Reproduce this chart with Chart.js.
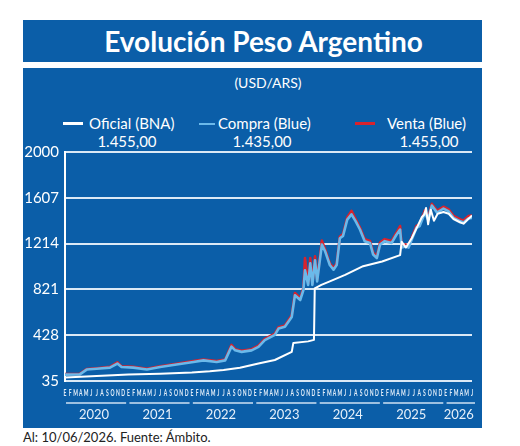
<!DOCTYPE html>
<html>
<head>
<meta charset="utf-8">
<script src="https://cdn.jsdelivr.net/npm/chart.js@4.4.1/dist/chart.umd.min.js"></script>
<style>
  body { margin: 0; width: 520px; height: 446px; background: #fff; position: relative; overflow: hidden; font-family: Lato, 'Open Sans', sans-serif; }
  .box { position: absolute; left: 23px; width: 459px; background: #0b5ea8; }
  #titulo { top: 20px; height: 42px; }
  #titulo span { position: absolute; left: 0; right: 0; top: 0; text-align: center; padding-left: 22px; color: #fff; font-weight: 700; font-size: 28px; line-height: 42px; }
  #panel { top: 68px; height: 360px; }
  .txt { position: absolute; color: #fff; font-size: 15px; line-height: 18px; white-space: nowrap; }
  .sw { position: absolute; }
  #fuente { position: absolute; left: 23px; top: 429px; font-size: 13px; color: #222; }
  #grafico { position: absolute; left: 23px; top: 137px; }
</style>
</head>
<body>
<div class="box" id="titulo"><span>Evolución Peso Argentino</span></div>
<div class="box" id="panel"></div>

<div class="txt" style="left:0;width:536px;text-align:center;top:74px;font-size:14px;">(USD/ARS)</div>

<div class="sw" style="left:63px;top:122px;width:20px;height:3px;background:#fff"></div>
<div class="txt" style="left:89px;top:114px">Oficial (BNA)</div>
<div class="sw" style="left:199px;top:123px;width:16px;height:2px;background:#6bb9ea"></div>
<div class="txt" style="left:218px;top:114px">Compra (Blue)</div>
<div class="sw" style="left:355px;top:122px;width:20px;height:3px;background:#d8232d"></div>
<div class="txt" style="left:387px;top:114px">Venta (Blue)</div>

<div class="txt" style="left:77px;width:100px;text-align:center;top:132px">1.455,00</div>
<div class="txt" style="left:212px;width:100px;text-align:center;top:132px">1.435,00</div>
<div class="txt" style="left:379px;width:100px;text-align:center;top:132px">1.455,00</div>

<canvas id="grafico" width="459" height="291"></canvas>
<div id="fuente">Al: 10/06/2026. Fuente: Ámbito.</div>

<script>
// meses contados desde enero 2020 (0) hasta junio 2026 (77)
const mesesLetras = ['E', 'F', 'M', 'A', 'M', 'J', 'J', 'A', 'S', 'O', 'N', 'D'];
const anios = ['2020', '2021', '2022', '2023', '2024', '2025', '2026'];
const anioDesde = [0, 12, 24, 36, 48, 60, 72];
const anioHasta = [11, 23, 35, 47, 59, 71, 77];
const ejeY = [35, 428, 821, 1214, 1607, 2000];

// Oficial (BNA)
const oficialMes = [0, 6, 12, 18, 24, 27.4, 30, 33.1, 36.6, 39.7, 42.9, 43.2, 46, 47.1, 47.25, 48.5,
  50.1, 53, 56.4, 60, 63.4, 63.7, 64.5, 65.6, 66.5, 67.5, 68, 68.3, 68.7, 69.2, 69.8, 70.5,
  71.6, 72.6, 73.5, 74.8, 75.4, 76.3, 77];
const oficialValor = [65, 78, 90, 98, 108, 118, 130, 148, 185, 215, 285, 362, 375, 388, 830, 860,
  890, 945, 1020, 1060, 1115, 1230, 1180, 1260, 1345, 1440, 1465, 1520, 1380, 1505, 1410, 1470,
  1485, 1470, 1425, 1395, 1385, 1425, 1455];

// Blue: compra y venta
const blueMes = [0, 2.8, 4.1, 6, 8.5, 9.9, 10.7, 12.9, 15.5, 18, 21.1, 24.3, 26.2, 28.7, 30.3, 31.5,
  32.2, 33.4, 35.3, 36.6, 37.8, 39.7, 40.4, 41.6, 42.9, 43.5, 44.5, 45.1, 45.4, 46, 46.4, 46.8,
  47.3, 47.7, 48.6, 49.2, 50.1, 50.8, 51.4, 52, 52.6, 53.4, 54.2, 55, 55.8, 56.7, 57.7, 58.3,
  59, 59.6, 60.5, 61.8, 62.7, 63.4, 63.7, 64.4, 65, 65.6, 66.5, 67.1, 68.1, 68.7, 69.4, 70.4,
  71.6, 72.6, 73.5, 74.8, 75.4, 76.3, 77];
const compraValor = [90, 92, 133, 140, 150, 185, 155, 150, 134, 155, 176, 198, 212, 198, 212, 330,
  298, 285, 298, 328, 385, 430, 485, 500, 585, 770, 730, 815, 985, 860, 1045, 860,
  1070, 890, 1205, 1150, 1030, 990, 1030, 1260, 1280, 1420, 1465, 1405, 1335, 1235, 1220, 1120,
  1090, 1205, 1235, 1220, 1290, 1335, 1180, 1190, 1180, 1250, 1350, 1365, 1480, 1420, 1540, 1480,
  1515, 1490, 1435, 1405, 1395, 1430, 1435];
const ventaValor = [94, 96, 138, 145, 156, 196, 161, 156, 140, 161, 183, 206, 220, 206, 220, 345,
  308, 295, 308, 338, 397, 442, 497, 512, 600, 790, 745, 832, 1090, 872, 1090, 872,
  1105, 905, 1240, 1165, 1045, 1005, 1045, 1275, 1295, 1438, 1495, 1422, 1352, 1252, 1237, 1137,
  1105, 1222, 1252, 1237, 1307, 1365, 1197, 1207, 1197, 1267, 1367, 1382, 1500, 1437, 1555, 1497,
  1530, 1507, 1452, 1422, 1412, 1450, 1455];

const puntos = (xs, ys) => xs.map((m, i) => ({ x: m, y: ys[i] }));
const mesesTicks = Array.from({ length: 78 }, (_, i) => i);
const aniosTicks = anioDesde.map((d, i) => (d + anioHasta[i]) / 2);

// letras de los meses (angostas) y lineas bajo ellas, una por año
const ejeMeses = {
  id: 'ejeMeses',
  afterDraw(chart) {
    const xs = chart.scales.x;
    const ctx = chart.ctx;
    ctx.save();
    ctx.fillStyle = '#e3eef9';
    ctx.font = 'bold 10px Lato';
    ctx.textAlign = 'center';
    ctx.textBaseline = 'middle';
    mesesTicks.forEach((m) => {
      ctx.save();
      ctx.translate(xs.getPixelForValue(m), xs.top + 12);
      ctx.scale(0.5, 1);
      ctx.fillText(mesesLetras[m % 12], 0, 0);
      ctx.restore();
    });
    const y = chart.scales.x2.top + 2;
    ctx.strokeStyle = '#cfe2f3';
    ctx.lineWidth = 1.5;
    anioDesde.forEach((d, i) => {
      ctx.beginPath();
      ctx.moveTo(xs.getPixelForValue(d) + 1, y);
      ctx.lineTo(xs.getPixelForValue(anioHasta[i]) + 3, y);
      ctx.stroke();
    });
    ctx.restore();
  }
};

new Chart(document.getElementById('grafico'), {
  type: 'line',
  data: {
    datasets: [
      {
        label: 'Oficial (BNA)',
        data: puntos(oficialMes, oficialValor),
        borderColor: '#ffffff',
        borderWidth: 2,
        order: 0
      },
      {
        label: 'Compra (Blue)',
        data: puntos(blueMes, compraValor),
        borderColor: '#6bb9ea',
        borderWidth: 2.6,
        order: 1
      },
      {
        label: 'Venta (Blue)',
        data: puntos(blueMes, ventaValor),
        borderColor: '#d8232d',
        borderWidth: 2.6,
        order: 2
      }
    ]
  },
  options: {
    responsive: false,
    animation: false,
    events: [],
    layout: { padding: { top: 0, right: 10, left: 0, bottom: 0 } },
    elements: { point: { radius: 0 }, line: { tension: 0, borderJoinStyle: 'round' } },
    plugins: { legend: { display: false }, tooltip: { enabled: false } },
    scales: {
      y: {
        min: 35,
        max: 2000,
        afterBuildTicks: (axis) => { axis.ticks = ejeY.map(v => ({ value: v })); },
        afterFit: (scale) => { scale.width = 42; },
        grid: { color: '#dbe9f6', lineWidth: 2, drawTicks: false },
        border: { color: '#ffffff', width: 2 },
        ticks: {
          color: '#ffffff',
          padding: 6,
          font: { family: 'Lato', size: 15 },
          callback: (v) => String(v)
        }
      },
      x: {
        type: 'linear',
        min: 0,
        max: 77,
        afterBuildTicks: (axis) => { axis.ticks = mesesTicks.map(v => ({ value: v })); },
        afterFit: (scale) => { scale.height = 20; },
        grid: { display: false, drawTicks: false },
        border: { display: false },
        ticks: { display: false }
      },
      x2: {
        type: 'linear',
        position: 'bottom',
        min: 0,
        max: 77,
        afterBuildTicks: (axis) => { axis.ticks = aniosTicks.map(v => ({ value: v })); },
        afterFit: (scale) => { scale.height = 27; },
        grid: { display: false, drawTicks: false },
        border: { display: false },
        ticks: {
          autoSkip: false,
          maxRotation: 0,
          padding: 6,
          color: '#e6f0fa',
          font: { family: 'Lato', size: 13 },
          callback: (v, i) => anios[i]
        }
      }
    }
  },
  plugins: [ejeMeses]
});
</script>
</body>
</html>
